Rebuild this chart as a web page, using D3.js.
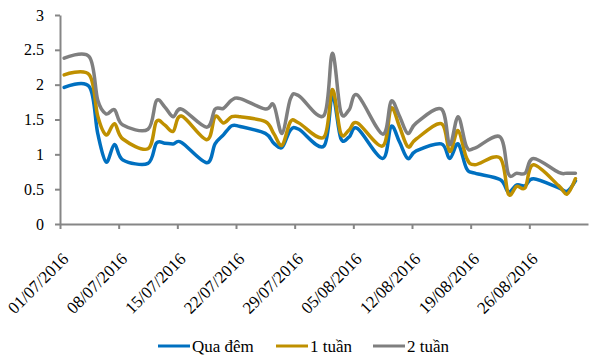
<!DOCTYPE html>
<html>
<head>
  <meta charset="utf-8">
  <title>Lãi suất liên ngân hàng</title>
  <style>
    body { margin: 0; background: #fff; }
    text { font-family: "Liberation Serif", "Times New Roman", serif; fill: #000; }
    .axis path, .axis line { stroke: #868686; stroke-width: 2; }
    .line { fill: none; stroke-width: 3.5; stroke-linejoin: round; stroke-linecap: round; }
  </style>
  <script src="https://d3js.org/d3.v7.min.js"></script>
</head>
<body>
<svg width="603" height="362"></svg>
<script>
// business days with data
var dates = [
  "2016-07-01","2016-07-04","2016-07-05","2016-07-06","2016-07-07","2016-07-08",
  "2016-07-11","2016-07-12","2016-07-13","2016-07-14","2016-07-15",
  "2016-07-18","2016-07-19","2016-07-20","2016-07-21","2016-07-22",
  "2016-07-25","2016-07-26","2016-07-27","2016-07-28","2016-07-29",
  "2016-08-01","2016-08-02","2016-08-03","2016-08-04","2016-08-05",
  "2016-08-08","2016-08-09","2016-08-10","2016-08-11","2016-08-12",
  "2016-08-15","2016-08-16","2016-08-17","2016-08-18","2016-08-19",
  "2016-08-22","2016-08-23","2016-08-24","2016-08-25","2016-08-26",
  "2016-08-29","2016-08-30","2016-08-31"
];

var quaDem = [
  1.96, 1.97, 1.30, 0.89, 1.14, 0.92,
  0.87, 1.16, 1.16, 1.15, 1.17,
  0.88, 1.15, 1.28, 1.41, 1.40,
  1.30, 1.16, 1.10, 1.35, 1.36,
  1.12, 1.84, 1.23, 1.25, 1.37,
  0.94, 1.40, 1.18, 0.94, 1.05,
  1.15, 0.94, 1.15, 0.80, 0.73,
  0.64, 0.46, 0.56, 0.55, 0.65,
  0.52, 0.47, 0.62
];

var motTuan = [
  2.14, 2.14, 1.55, 1.28, 1.44, 1.22,
  1.08, 1.47, 1.42, 1.33, 1.55,
  1.21, 1.54, 1.45, 1.54, 1.54,
  1.47, 1.30, 1.13, 1.47, 1.45,
  1.25, 1.93, 1.30, 1.35, 1.45,
  1.12, 1.66, 1.40, 1.11, 1.22,
  1.44, 1.04, 1.34, 0.95, 0.85,
  0.95, 0.43, 0.54, 0.52, 0.85,
  0.55, 0.43, 0.65
];

var haiTuan = [
  2.38, 2.40, 1.78, 1.58, 1.64, 1.42,
  1.36, 1.77, 1.68, 1.54, 1.65,
  1.39, 1.65, 1.66, 1.78, 1.80,
  1.65, 1.71, 1.30, 1.80, 1.84,
  1.56, 2.45, 1.61, 1.64, 1.85,
  1.29, 1.76, 1.55, 1.30, 1.45,
  1.65, 1.14, 1.54, 1.11, 1.09,
  1.25, 0.72, 0.73, 0.73, 0.94,
  0.74, 0.73, 0.73
];

var tickLabels = ["01/07/2016","08/07/2016","15/07/2016","22/07/2016","29/07/2016",
                  "05/08/2016","12/08/2016","19/08/2016","26/08/2016"];
var yTicks = [0, 0.5, 1, 1.5, 2, 2.5, 3];

var series = [
  {name: "Qua đêm", values: quaDem, color: "#0070C0"},
  {name: "1 tuần", values: motTuan, color: "#BF9000"},
  {name: "2 tuần", values: haiTuan, color: "#7F7F7F"}
];

var svg = d3.select("svg");
var parse = d3.timeParse("%d/%m/%Y");
var parseIso = d3.timeParse("%Y-%m-%d");

var x = d3.scaleTime()
    .domain([new Date(2016, 6, 1), new Date(2016, 8, 2)])
    .range([60, 588]);
var y = d3.scaleLinear().domain([0, 3]).range([224, 15]);

// points sit in the middle of their day
var xPos = function(i) { return x(d3.timeHour.offset(parseIso(dates[i]), 12)); };

// y axis
svg.append("g")
    .attr("class", "axis")
    .attr("transform", "translate(60,0)")
    .call(d3.axisLeft(y).tickValues(yTicks).tickSize(5).tickSizeOuter(0).tickPadding(11)
      .tickFormat(function(d) { return String(d); }))
    .selectAll("text").style("font-size", "16px");

// x axis
var xg = svg.append("g")
    .attr("class", "axis")
    .attr("transform", "translate(0,224)")
    .call(d3.axisBottom(x).tickValues(tickLabels.map(parse)).tickSize(5).tickSizeOuter(0)
      .tickFormat(function(d, i) { return tickLabels[i]; }));
xg.selectAll("text")
    .style("font-size", "17px")
    .attr("text-anchor", "end")
    .attr("dy", null)
    .attr("y", 0)
    .attr("transform", "translate(9,36) rotate(-45)");

var line = d3.line()
    .x(function(d, i) { return xPos(i); })
    .y(function(d) { return y(d); })
    .curve(d3.curveCatmullRom.alpha(0));

svg.selectAll(".line")
  .data(series)
  .enter().append("path")
    .attr("class", "line")
    .attr("stroke", function(d) { return d.color; })
    .attr("d", function(d) { return line(d.values); });

// legend
var legendX = [158, 276, 373];
var lg = svg.selectAll(".legend")
  .data(series)
  .enter().append("g")
    .attr("class", "legend")
    .attr("transform", function(d, i) { return "translate(" + legendX[i] + ",346)"; });
lg.append("line")
    .attr("x1", 0).attr("x2", 32)
    .attr("stroke", function(d) { return d.color; })
    .attr("stroke-width", 3);
lg.append("text")
    .attr("x", 34)
    .attr("dy", "0.35em")
    .style("font-size", "17px")
    .text(function(d) { return d.name; });
</script>
</body>
</html>
